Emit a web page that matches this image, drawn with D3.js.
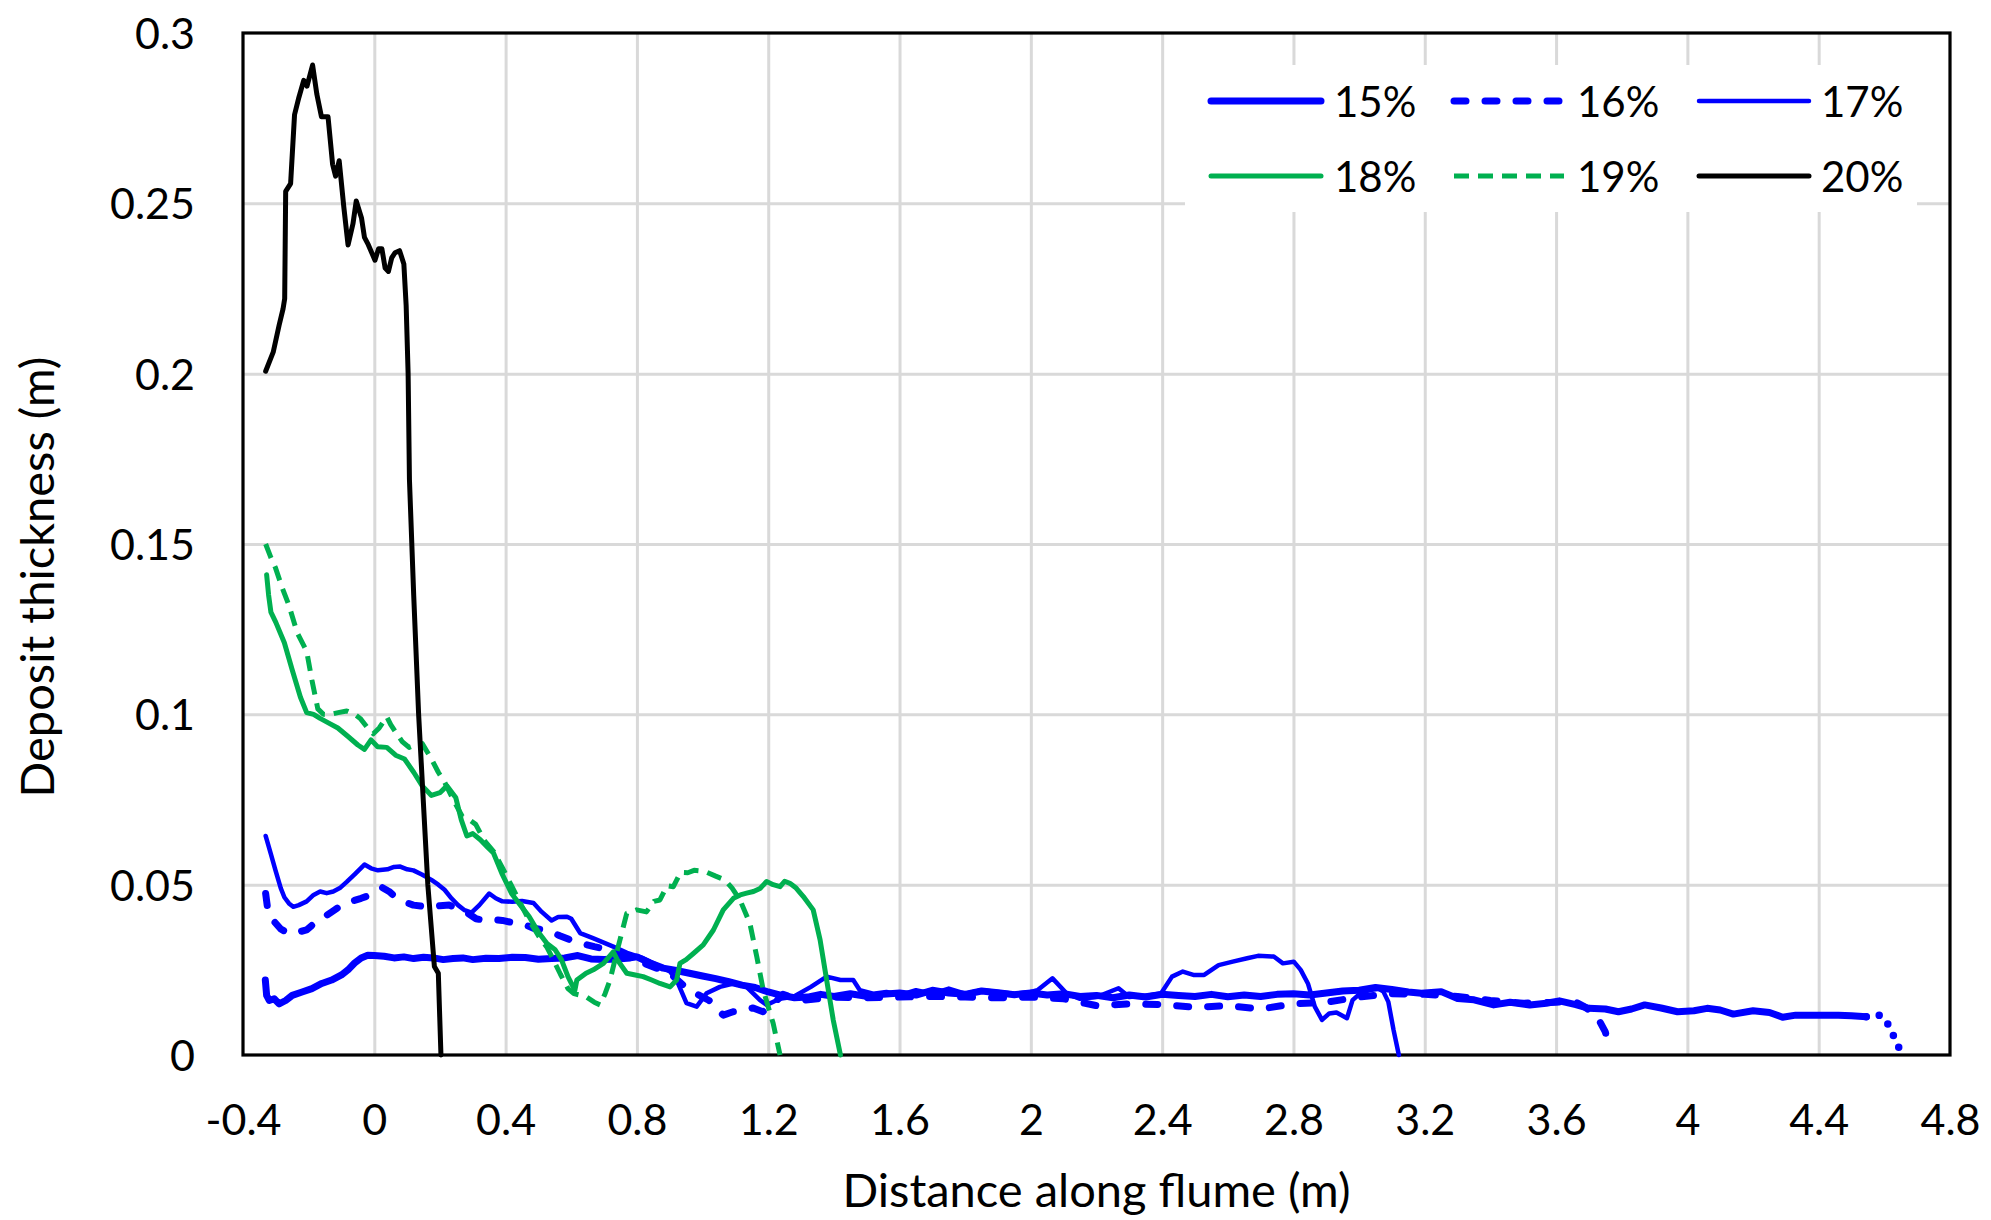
<!DOCTYPE html>
<html>
<head>
<meta charset="utf-8">
<script src="https://cdn.jsdelivr.net/npm/d3@7"></script>
<style>
  html, body { margin: 0; padding: 0; background: #fff; }
  svg { display: block; font-family: Lato, "Open Sans", sans-serif; }
</style>
</head>
<body>
<svg id="chart" width="1991" height="1220"></svg>
<script>
// Deposit thickness profiles along the flume for six sediment concentrations.
// Each series: [distance (m), thickness (m)].
const seriesNames = ["15%", "16%", "17%", "18%", "19%", "20%"];

const s15 = [
  [-0.332, 0.022], [-0.328, 0.0175], [-0.32, 0.016], [-0.305, 0.0165], [-0.29, 0.015], [-0.27, 0.016],
  [-0.25, 0.0175], [-0.22, 0.0185], [-0.19, 0.0195], [-0.16, 0.021], [-0.13, 0.022], [-0.10, 0.0235],
  [-0.08, 0.025], [-0.06, 0.027], [-0.04, 0.0285], [-0.02, 0.0293], [0.0, 0.0292], [0.03, 0.029],
  [0.06, 0.0285], [0.09, 0.0288], [0.12, 0.0283], [0.15, 0.0287], [0.18, 0.0285], [0.21, 0.028],
  [0.24, 0.0283], [0.27, 0.0285], [0.3, 0.028], [0.34, 0.0284], [0.38, 0.0283], [0.42, 0.0287],
  [0.46, 0.0286], [0.5, 0.0281], [0.54, 0.0283], [0.58, 0.0285], [0.62, 0.0292], [0.66, 0.0282],
  [0.7, 0.028], [0.74, 0.0282], [0.78, 0.0285], [0.8, 0.0288], [0.84, 0.027], [0.88, 0.0255],
  [0.92, 0.0248], [0.96, 0.024], [1.0, 0.0232], [1.04, 0.0224], [1.08, 0.0215], [1.12, 0.0205],
  [1.16, 0.0198], [1.2, 0.0185], [1.24, 0.0175], [1.28, 0.0168], [1.32, 0.017], [1.36, 0.0178],
  [1.4, 0.0172], [1.45, 0.018], [1.5, 0.0172], [1.55, 0.0178], [1.6, 0.0182], [1.65, 0.0176],
  [1.7, 0.019], [1.75, 0.0182], [1.8, 0.0178], [1.85, 0.0188], [1.9, 0.0183], [1.95, 0.0177],
  [2.0, 0.0182], [2.05, 0.0176], [2.1, 0.018], [2.15, 0.0172], [2.2, 0.0175], [2.25, 0.0168],
  [2.3, 0.0176], [2.35, 0.017], [2.4, 0.0178], [2.45, 0.0175], [2.5, 0.0172], [2.55, 0.0178],
  [2.6, 0.0171], [2.65, 0.0176], [2.7, 0.0172], [2.75, 0.0178], [2.8, 0.018], [2.85, 0.0176],
  [2.9, 0.0182], [2.95, 0.0188], [3.0, 0.019], [3.05, 0.0198], [3.1, 0.0192], [3.15, 0.0185],
  [3.19, 0.0181], [3.25, 0.0186], [3.3, 0.0166], [3.35, 0.0162], [3.41, 0.0147], [3.46, 0.0155],
  [3.52, 0.0147], [3.57, 0.0152], [3.61, 0.0159], [3.66, 0.0148], [3.7, 0.0137], [3.75, 0.0135],
  [3.79, 0.0127], [3.83, 0.0135], [3.87, 0.0147], [3.92, 0.0138], [3.97, 0.0127], [4.02, 0.013],
  [4.06, 0.0137], [4.1, 0.0132], [4.14, 0.012], [4.2, 0.013], [4.25, 0.0125], [4.29, 0.0111],
  [4.33, 0.0117], [4.4, 0.0117], [4.46, 0.0117], [4.5, 0.0115], [4.545, 0.0112],
  [4.59, 0.0117], [4.62, 0.0079], [4.635, 0.0035], [4.66, 0.0]
];

const s16 = [
  [-0.331, 0.0474], [-0.325, 0.043], [-0.308, 0.0395], [-0.285, 0.037], [-0.26, 0.0356], [-0.235, 0.036],
  [-0.206, 0.0367], [-0.185, 0.0385], [-0.165, 0.040], [-0.145, 0.041], [-0.125, 0.0423], [-0.1, 0.044],
  [-0.07, 0.0451], [-0.04, 0.046], [-0.016, 0.0468], [0.005, 0.048], [0.025, 0.0491], [0.045, 0.048],
  [0.065, 0.0463], [0.09, 0.045], [0.119, 0.044], [0.145, 0.0437], [0.174, 0.0435], [0.2, 0.0438],
  [0.228, 0.044], [0.255, 0.043], [0.282, 0.0418], [0.31, 0.040], [0.336, 0.0395], [0.36, 0.0398],
  [0.39, 0.0395], [0.415, 0.039], [0.445, 0.0384], [0.465, 0.038], [0.485, 0.0372], [0.51, 0.0368],
  [0.54, 0.0361], [0.565, 0.035], [0.594, 0.0339], [0.63, 0.0328], [0.67, 0.0318], [0.73, 0.0306],
  [0.78, 0.029], [0.82, 0.027], [0.86, 0.0255], [0.9, 0.024], [0.941, 0.0205], [0.98, 0.018],
  [1.02, 0.016], [1.063, 0.0117], [1.093, 0.0127], [1.12, 0.013], [1.154, 0.0138], [1.184, 0.0127],
  [1.215, 0.015], [1.245, 0.0178], [1.3, 0.016], [1.35, 0.0165], [1.4, 0.017], [1.5, 0.0168],
  [1.6, 0.017], [1.7, 0.0172], [1.8, 0.017], [1.9, 0.0168], [2.0, 0.017], [2.1, 0.0165],
  [2.15, 0.0155], [2.2, 0.0145], [2.3, 0.015], [2.4, 0.0148], [2.5, 0.014], [2.6, 0.0145],
  [2.7, 0.0135], [2.8, 0.015], [2.9, 0.0155], [3.0, 0.017], [3.1, 0.018], [3.2, 0.0178],
  [3.3, 0.0172], [3.4, 0.016], [3.5, 0.0152], [3.6, 0.0155], [3.65, 0.016], [3.686, 0.0142],
  [3.725, 0.0113], [3.75, 0.0068], [3.765, 0.001]
];

const s17 = [
  [-0.331, 0.0643], [-0.315, 0.059], [-0.301, 0.0542], [-0.285, 0.049], [-0.274, 0.0463], [-0.26, 0.0445],
  [-0.247, 0.0435], [-0.23, 0.044], [-0.206, 0.0451], [-0.185, 0.047], [-0.165, 0.048], [-0.145, 0.0475],
  [-0.125, 0.048], [-0.105, 0.049], [-0.084, 0.0508], [-0.06, 0.053], [-0.03, 0.0559], [-0.01, 0.0548],
  [0.011, 0.0542], [0.04, 0.0545], [0.06, 0.0552], [0.079, 0.0553], [0.1, 0.0545], [0.119, 0.0542],
  [0.145, 0.053], [0.174, 0.0514], [0.195, 0.050], [0.214, 0.0485], [0.235, 0.046], [0.255, 0.044],
  [0.275, 0.0425], [0.296, 0.0418], [0.32, 0.044], [0.35, 0.0474], [0.37, 0.046], [0.39, 0.0451],
  [0.42, 0.045], [0.45, 0.0452], [0.485, 0.0446], [0.51, 0.042], [0.54, 0.0395], [0.56, 0.0405],
  [0.587, 0.0406], [0.6, 0.040], [0.627, 0.0358], [0.666, 0.0343], [0.728, 0.0318], [0.77, 0.030],
  [0.819, 0.0284], [0.86, 0.0265], [0.901, 0.0245], [0.921, 0.022], [0.951, 0.0152], [0.982, 0.0142],
  [1.012, 0.0181], [1.053, 0.020], [1.094, 0.021], [1.134, 0.020], [1.175, 0.0161], [1.195, 0.0147],
  [1.235, 0.0165], [1.277, 0.0171], [1.33, 0.020], [1.378, 0.023], [1.42, 0.022], [1.459, 0.022],
  [1.479, 0.019], [1.52, 0.018], [1.56, 0.0185], [1.6, 0.0176], [1.65, 0.019], [1.7, 0.018],
  [1.75, 0.0195], [1.8, 0.018], [1.85, 0.019], [1.9, 0.0185], [1.95, 0.018], [2.0, 0.0185],
  [2.02, 0.019], [2.066, 0.0225], [2.11, 0.018], [2.15, 0.0165], [2.2, 0.017], [2.267, 0.0196],
  [2.3, 0.017], [2.35, 0.0175], [2.397, 0.0181], [2.43, 0.023], [2.463, 0.0245], [2.495, 0.0235],
  [2.528, 0.0235], [2.572, 0.0264], [2.615, 0.0274], [2.659, 0.0284], [2.692, 0.0291], [2.74, 0.0289],
  [2.768, 0.0269], [2.801, 0.0274], [2.822, 0.025], [2.844, 0.021], [2.865, 0.0142], [2.887, 0.0103],
  [2.909, 0.0122], [2.931, 0.0125], [2.963, 0.0108], [2.98, 0.0161], [3.0, 0.0178], [3.03, 0.019],
  [3.06, 0.0195], [3.074, 0.0186], [3.089, 0.0156], [3.105, 0.0073], [3.121, 0.0]
];

const s18 = [
  [-0.328, 0.141], [-0.322, 0.135], [-0.315, 0.130], [-0.30, 0.127], [-0.274, 0.121], [-0.25, 0.113],
  [-0.225, 0.105], [-0.206, 0.1005], [-0.185, 0.100], [-0.165, 0.0988], [-0.14, 0.0975], [-0.111, 0.096],
  [-0.08, 0.0935], [-0.05, 0.091], [-0.03, 0.0897], [-0.01, 0.0925], [0.01, 0.0905], [0.038, 0.0903],
  [0.065, 0.088], [0.092, 0.0869], [0.12, 0.083], [0.146, 0.079], [0.174, 0.0762], [0.2, 0.077],
  [0.221, 0.079], [0.248, 0.0756], [0.265, 0.069], [0.282, 0.0643], [0.3, 0.065], [0.323, 0.0632],
  [0.345, 0.061], [0.363, 0.0593], [0.39, 0.053], [0.418, 0.0474], [0.445, 0.044], [0.472, 0.0406],
  [0.5, 0.036], [0.526, 0.0327], [0.55, 0.031], [0.57, 0.028], [0.59, 0.023], [0.611, 0.019],
  [0.617, 0.022], [0.645, 0.024], [0.667, 0.025], [0.698, 0.0269], [0.728, 0.0303], [0.74, 0.028],
  [0.769, 0.024], [0.795, 0.0235], [0.819, 0.023], [0.845, 0.022], [0.87, 0.021], [0.901, 0.020],
  [0.921, 0.022], [0.931, 0.0269], [0.95, 0.028], [0.972, 0.0298], [1.002, 0.0323], [1.033, 0.0367],
  [1.063, 0.0426], [1.094, 0.046], [1.115, 0.047], [1.134, 0.0475], [1.155, 0.048], [1.175, 0.0489],
  [1.195, 0.0509], [1.215, 0.050], [1.236, 0.0494], [1.25, 0.051], [1.266, 0.0504], [1.285, 0.049],
  [1.307, 0.0465], [1.337, 0.0426], [1.358, 0.0338], [1.378, 0.022], [1.398, 0.0103], [1.42, 0.0]
];

const s19 = [
  [-0.331, 0.150], [-0.315, 0.146], [-0.301, 0.143], [-0.28, 0.137], [-0.26, 0.132], [-0.235, 0.124],
  [-0.206, 0.1185], [-0.19, 0.11], [-0.172, 0.1016], [-0.155, 0.1], [-0.138, 0.0999], [-0.11, 0.1005],
  [-0.084, 0.101], [-0.06, 0.1], [-0.043, 0.0988], [-0.02, 0.096], [-0.003, 0.0943], [0.015, 0.096],
  [0.038, 0.0993], [0.05, 0.097], [0.065, 0.0948], [0.085, 0.092], [0.106, 0.0903], [0.125, 0.091],
  [0.146, 0.0914], [0.174, 0.0869], [0.195, 0.083], [0.214, 0.0801], [0.24, 0.075], [0.268, 0.070],
  [0.29, 0.069], [0.309, 0.0677], [0.335, 0.063], [0.363, 0.0598], [0.39, 0.055], [0.418, 0.0497],
  [0.445, 0.0445], [0.472, 0.0395], [0.5, 0.035], [0.526, 0.0316], [0.545, 0.028], [0.567, 0.0237],
  [0.59, 0.0195], [0.608, 0.018], [0.63, 0.0175], [0.648, 0.0169], [0.67, 0.0155], [0.688, 0.0147],
  [0.703, 0.018], [0.718, 0.022], [0.743, 0.0318], [0.769, 0.0416], [0.799, 0.0426], [0.829, 0.042],
  [0.852, 0.0451], [0.87, 0.0455], [0.892, 0.0497], [0.911, 0.0494], [0.933, 0.0536], [0.955, 0.0535],
  [0.974, 0.0542], [0.995, 0.054], [1.014, 0.0536], [1.04, 0.0525], [1.068, 0.0514], [1.09, 0.049],
  [1.114, 0.0455], [1.144, 0.0387], [1.165, 0.0289], [1.185, 0.019], [1.215, 0.0093], [1.236, 0.0]
];

const s20 = [
  [-0.331, 0.2007], [-0.308, 0.2063], [-0.29, 0.2142], [-0.278, 0.219], [-0.273, 0.222], [-0.27, 0.2535],
  [-0.255, 0.2558], [-0.243, 0.276], [-0.23, 0.281], [-0.215, 0.2861], [-0.205, 0.2844], [-0.188, 0.2906],
  [-0.175, 0.282], [-0.161, 0.2754], [-0.141, 0.2754], [-0.127, 0.2614], [-0.118, 0.258], [-0.107, 0.2625],
  [-0.093, 0.249], [-0.08, 0.2378], [-0.065, 0.244], [-0.055, 0.2507], [-0.039, 0.2457], [-0.03, 0.240],
  [-0.018, 0.2378], [0.002, 0.2333], [0.013, 0.2367], [0.023, 0.2367], [0.033, 0.231], [0.043, 0.23],
  [0.053, 0.234], [0.063, 0.2355], [0.077, 0.2361], [0.09, 0.2322], [0.097, 0.22], [0.103, 0.2],
  [0.107, 0.169], [0.12, 0.135], [0.135, 0.1], [0.163, 0.05], [0.183, 0.026], [0.195, 0.024], [0.203, 0.0]
];

const seriesData = [s15, s16, s17, s18, s19, s20];

// Axis ticks
const xTickValues = [-0.4, 0, 0.4, 0.8, 1.2, 1.6, 2, 2.4, 2.8, 3.2, 3.6, 4, 4.4, 4.8];
const xTickLabels = ["-0.4", "0", "0.4", "0.8", "1.2", "1.6", "2", "2.4", "2.8", "3.2", "3.6", "4", "4.4", "4.8"];
const yTickValues = [0, 0.05, 0.1, 0.15, 0.2, 0.25, 0.3];
const yTickLabels = ["0", "0.05", "0.1", "0.15", "0.2", "0.25", "0.3"];

// Line styles per series
const styles = [
  { color: "#0000ff", width: 7,   dash: null,    cap: "round" },
  { color: "#0000ff", width: 7,   dash: "12 19", cap: "round" },
  { color: "#0000ff", width: 4.5, dash: null,    cap: "round" },
  { color: "#00b050", width: 5,   dash: null,    cap: "round" },
  { color: "#00b050", width: 5,   dash: "15 9",  cap: "butt"  },
  { color: "#000000", width: 5,   dash: null,    cap: "round" }
];

const margin = { left: 243, top: 33, right: 1991 - 1950, bottom: 1220 - 1055 };
const W = 1991 - margin.left - margin.right;
const H = 1220 - margin.top - margin.bottom;

const svg = d3.select("#chart");
const g = svg.append("g").attr("transform", `translate(${margin.left},${margin.top})`);

const x = d3.scaleLinear().domain([-0.4, 4.8]).range([0, W]);
const y = d3.scaleLinear().domain([0, 0.3]).range([H, 0]);

// Gridlines
g.append("g")
  .attr("class", "grid-x")
  .attr("transform", `translate(0,${H})`)
  .call(d3.axisBottom(x).tickValues(xTickValues.slice(1, -1)).tickSize(-H).tickFormat(""))
  .call(s => s.select(".domain").remove())
  .call(s => s.selectAll("line").attr("stroke", "#d9d9d9").attr("stroke-width", 3));

g.append("g")
  .attr("class", "grid-y")
  .call(d3.axisLeft(y).tickValues(yTickValues.slice(1, -1)).tickSize(-W).tickFormat(""))
  .call(s => s.select(".domain").remove())
  .call(s => s.selectAll("line").attr("stroke", "#d9d9d9").attr("stroke-width", 3));

// Legend background (drawn over the grid)
const legend = svg.append("g").attr("class", "legend");
legend.append("rect")
  .attr("x", 1185).attr("y", 65).attr("width", 1917 - 1185).attr("height", 212 - 65)
  .attr("fill", "#fff");

// Plot frame
g.append("rect")
  .attr("x", 0).attr("y", 0).attr("width", W).attr("height", H)
  .attr("fill", "none").attr("stroke", "#000").attr("stroke-width", 3.2);

// Series lines
const line = d3.line().x(d => x(d[0])).y(d => y(d[1]));
const TAIL_START = 4.545; // end of the continuous 15% record; later points are sparse
seriesData.forEach((data, i) => {
  const st = styles[i];
  let main = data, tail = null;
  if (i === 0) {
    const k = data.findIndex(d => d[0] >= TAIL_START);
    main = data.slice(0, k + 1);
    tail = data.slice(k);
  }
  g.append("path")
    .datum(main)
    .attr("d", line)
    .attr("fill", "none")
    .attr("stroke", st.color)
    .attr("stroke-width", st.width)
    .attr("stroke-linejoin", "round")
    .attr("stroke-linecap", st.cap)
    .attr("stroke-dasharray", st.dash);
  if (tail) {
    g.append("path")
      .datum(tail)
      .attr("d", line)
      .attr("fill", "none")
      .attr("stroke", st.color)
      .attr("stroke-width", 7.5)
      .attr("stroke-linecap", "round")
      .attr("stroke-dasharray", "0 13");
  }
});

// Axis labels
const xAxisG = g.append("g")
  .attr("transform", `translate(0,${H})`)
  .call(d3.axisBottom(x).tickValues(xTickValues).tickFormat((d, i) => xTickLabels[i]).tickSize(0).tickPadding(0));
xAxisG.select(".domain").remove();
xAxisG.selectAll("text")
  .attr("y", 80).attr("dy", 0)
  .attr("fill", "#000")
  .style("font-family", "Lato, sans-serif")
  .style("font-size", "43px");

const yAxisG = g.append("g")
  .call(d3.axisLeft(y).tickValues(yTickValues).tickFormat((d, i) => yTickLabels[i]).tickSize(0).tickPadding(0));
yAxisG.select(".domain").remove();
yAxisG.selectAll("text")
  .attr("x", -48).attr("dy", "0.36em")
  .attr("fill", "#000")
  .style("font-family", "Lato, sans-serif")
  .style("font-size", "43px");

// Axis titles
svg.append("text")
  .attr("x", margin.left + W / 2).attr("y", 1207)
  .attr("text-anchor", "middle")
  .style("font-size", "47px")
  .text("Distance along flume (m)");

svg.append("text")
  .attr("transform", "translate(54,577) rotate(-90)")
  .attr("text-anchor", "middle")
  .style("font-size", "47px")
  .text("Deposit thickness (m)");

// Legend entries: two rows of three
const legendItems = [
  { lx: 1211, tx: 1334, ly: 101, ty: 117 },
  { lx: 1454, tx: 1577, ly: 101, ty: 117 },
  { lx: 1699, tx: 1821, ly: 101, ty: 117 },
  { lx: 1211, tx: 1334, ly: 176, ty: 192 },
  { lx: 1454, tx: 1577, ly: 176, ty: 192 },
  { lx: 1699, tx: 1821, ly: 176, ty: 192 }
];
legendItems.forEach((p, i) => {
  const st = styles[i];
  legend.append("line")
    .attr("x1", p.lx).attr("x2", p.lx + 110)
    .attr("y1", p.ly).attr("y2", p.ly)
    .attr("stroke", st.color)
    .attr("stroke-width", st.width)
    .attr("stroke-linecap", st.cap)
    .attr("stroke-dasharray", st.dash);
  legend.append("text")
    .attr("x", p.tx).attr("y", p.ty)
    .style("font-size", "42px")
    .text(seriesNames[i]);
});
</script>
</body>
</html>
